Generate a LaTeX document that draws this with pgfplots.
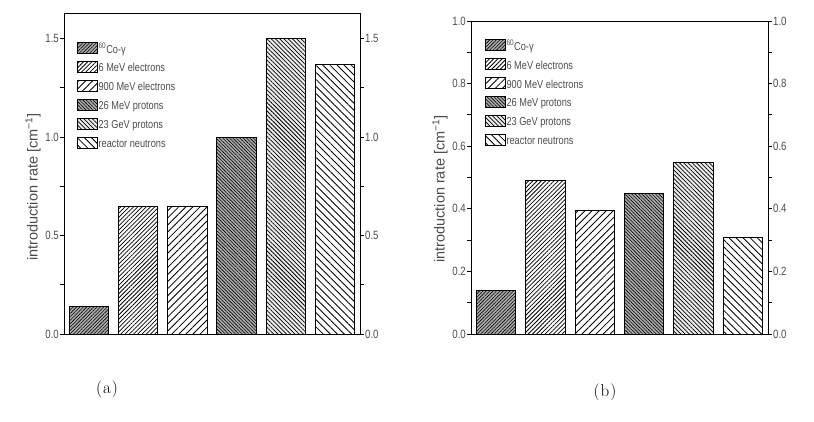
\documentclass[border=0pt]{standalone}
\usepackage{fontspec}
\newfontfamily\arial{Liberation Sans}
\newfontfamily\narrowfont[FakeStretch=0.8]{Liberation Sans}
\usepackage{pgfplots}
\pgfplotsset{compat=1.18}
\usetikzlibrary{patterns.meta}
\definecolor{txt}{gray}{0.3}

\pgfplotsset{
  bA/.style={fill=gray!65, postaction={pattern={Lines[angle=45,distance=2.4pt,line width=0.6pt]}}},
  bB/.style={fill=white, postaction={pattern={Lines[angle=45,distance=3pt,line width=0.75pt]}}},
  bC/.style={fill=white, postaction={pattern={Lines[angle=45,distance=5pt,line width=0.85pt]}}},
  bD/.style={fill=gray!65, postaction={pattern={Lines[angle=-45,distance=2.4pt,line width=0.6pt]}}},
  bE/.style={fill=gray!15, postaction={pattern={Lines[angle=-45,distance=3pt,line width=0.75pt]}}},
  bF/.style={fill=white, postaction={pattern={Lines[angle=-45,distance=5pt,line width=0.85pt]}}},
  geom/.style={scale only axis, anchor=south west, xmin=-0.51, xmax=5.51, ymin=0},
  ticksty/.style={
    tick align=outside, major tick length=4pt, minor tick length=4pt,
    minor y tick num=1,
    every tick/.style={black, line width=0.9pt},
    yticklabel style={font=\narrowfont\fontsize{12}{14}\selectfont, text=txt, inner sep=1pt},
    /pgf/number format/assume math mode=true,
    /pgf/number format/fixed, /pgf/number format/fixed zerofill, /pgf/number format/precision=1,
  },
  common/.style={
    geom, ticksty,
    ybar, bar width=0.8,
    xtick=\empty,
    axis line style={line width=0.9pt},
    ytick pos=left,
    ylabel={introduction rate [cm\textsuperscript{−1}]},
    ylabel style={font=\arial\fontsize{14.5}{16}\selectfont, text=txt, anchor=center},
    legend cell align=left,
    legend style={draw=none, fill=none, inner sep=0pt, anchor=north west,
      row sep=5pt, /tikz/every even column/.append style={column sep=1pt},
      nodes={font=\narrowfont\fontsize{11.5}{13}\selectfont, text=txt, inner sep=0.5pt, text height=7.5pt, text depth=2.5pt}},
    every axis plot/.append style={bar shift=0pt, draw=black, line width=1pt,
      legend image code/.code={\draw[##1, line width=0.9pt] (0pt,-3pt) rectangle (20pt,8pt);}},
  },
  rightax/.style={
    geom, ticksty, hide x axis, axis y line*=right,
    axis line style={line width=0.9pt},
  },
}

\begin{document}
\begin{tikzpicture}
\path[use as bounding box] (0,0) rectangle (814pt,421pt);

% ---------- panel (a)
\begin{axis}[common, at={(64pt,87pt)}, width=296pt, height=321pt,
  ymax=1.63, ytick={0,0.5,1.0,1.5},
  ylabel style={at={(axis description cs:-0.105,0.458)}},
  legend style={at={(axis description cs:0.044,0.91)}}]
\addplot[bA] coordinates {(0,0.138)};
\addplot[bB] coordinates {(1,0.645)};
\addplot[bC] coordinates {(2,0.645)};
\addplot[bD] coordinates {(3,1.0)};
\addplot[bE] coordinates {(4,1.5)};
\addplot[bF] coordinates {(5,1.367)};
\legend{\textsuperscript{60}Co-γ, 6 MeV electrons, 900 MeV electrons, 26 MeV protons, 23 GeV protons, reactor neutrons}
\end{axis}
\begin{axis}[rightax, at={(64pt,87pt)}, width=296pt, height=321pt,
  ymax=1.63, ytick={0,0.5,1.0,1.5}]
\addplot[draw=none] coordinates {(0,0)};
\end{axis}

% ---------- panel (b)
\begin{axis}[common, at={(471pt,87pt)}, width=297pt, height=313pt,
  ymax=1.0, ytick={0,0.2,0.4,0.6,0.8,1.0},
  ylabel style={at={(axis description cs:-0.104,0.463)}},
  legend style={at={(axis description cs:0.047,0.9425)}}]
\addplot[bA] coordinates {(0,0.14)};
\addplot[bB] coordinates {(1,0.489)};
\addplot[bC] coordinates {(2,0.396)};
\addplot[bD] coordinates {(3,0.449)};
\addplot[bE] coordinates {(4,0.549)};
\addplot[bF] coordinates {(5,0.308)};
\legend{\textsuperscript{60}Co-γ, 6 MeV electrons, 900 MeV electrons, 26 MeV protons, 23 GeV protons, reactor neutrons}
\end{axis}
\begin{axis}[rightax, at={(471pt,87pt)}, width=297pt, height=313pt,
  ymax=1.0, ytick={0,0.2,0.4,0.6,0.8,1.0}]
\addplot[draw=none] coordinates {(0,0)};
\end{axis}

\node[font=\fontsize{17}{20}\selectfont] at (107pt,32pt) {(\kern1pt a\kern1pt)};
\node[font=\fontsize{17}{20}\selectfont] at (605pt,29pt) {(\kern1pt b\kern1pt)};
\end{tikzpicture}
\end{document}
